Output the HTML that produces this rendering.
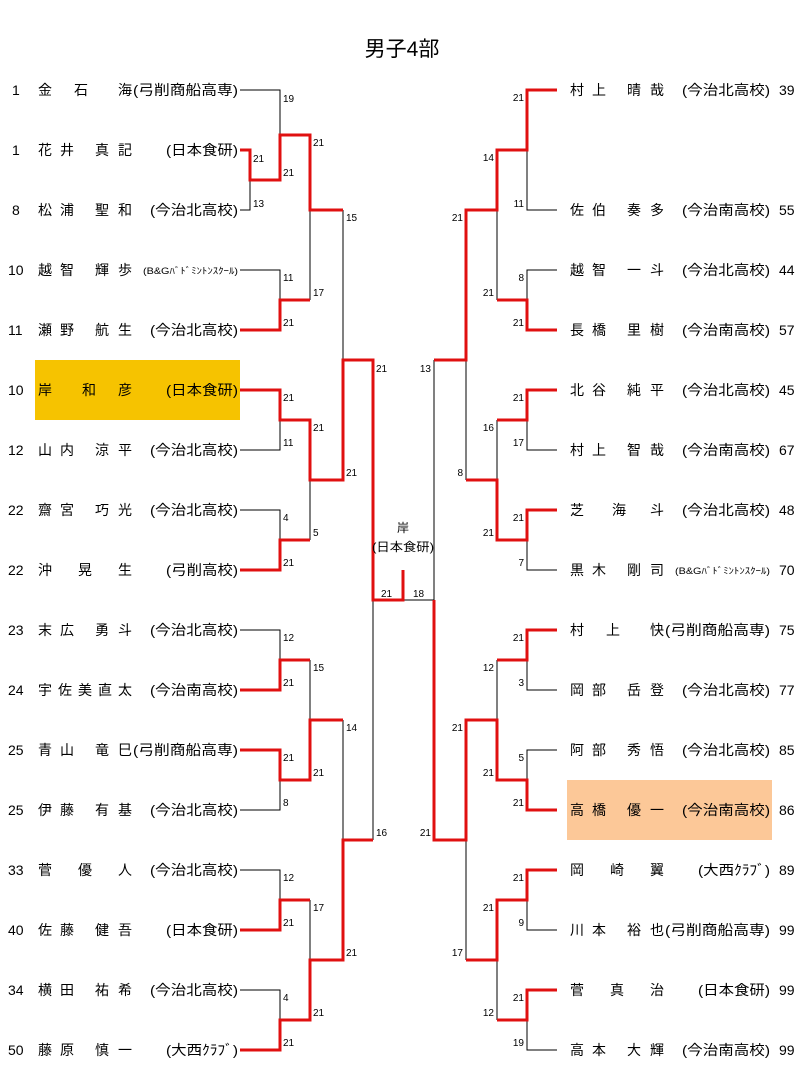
<!DOCTYPE html>
<html><head><meta charset="utf-8"><style>
html,body{margin:0;padding:0;background:#fff;}
svg{display:block;}
text{font-family:"Liberation Sans","Noto Sans CJK JP",sans-serif;fill:#000;}
.n{font-size:14px;}
.s{font-size:10px;}
.sm{font-size:9px;}
.k path{fill:none;stroke:#000;stroke-width:1;}
.r path{fill:none;stroke:#e01010;stroke-width:3;stroke-linejoin:miter;}
</style></head><body>
<svg width="804" height="1081" viewBox="0 0 804 1081" xmlns="http://www.w3.org/2000/svg">
<rect x="35" y="360" width="205" height="60" fill="#f6c300"/>
<rect x="567" y="780" width="205" height="60" fill="#fcc898"/>
<text x="402" y="56" font-size="21" text-anchor="middle">男子4部</text>

<g class="k">
<path d="M240 90H280V180M240 150H250V210H240M250 180H280M280 135H310"/>
<path d="M240 270H280V330H240M280 300H310M310 135V300M310 210H343"/>
<path d="M240 390H280V450H240M280 420H310M240 510H280V570H240M280 540H310M310 420V540M310 480H343M343 210V480M343 360H373"/>
<path d="M240 630H280V690H240M280 660H310M240 750H280V810H240M280 780H310M310 660V780M310 720H343"/>
<path d="M240 870H280V930H240M280 900H310M240 990H280V1050H240M280 1020H310M310 900V1020M310 960H343M343 720V960M343 840H373"/>
<path d="M373 360V840M373 600H434M434 360V840"/>
<path d="M557 90H527V210H557M527 150H497M557 270H527V330H557M527 300H497M497 150V300M497 210H466"/>
<path d="M557 390H527V450H557M527 420H497M557 510H527V570H557M527 540H497M497 420V540M497 480H466M466 210V480M466 360H434"/>
<path d="M557 630H527V690H557M527 660H497M557 750H527V810H557M527 780H497M497 660V780M497 720H466"/>
<path d="M557 870H527V930H557M527 900H497M557 990H527V1050H557M527 1020H497M497 900V1020M497 960H466M466 720V960M466 840H434"/>
</g>
<g class="r">
<path d="M240 150H250V180H280V135H310V210H343"/>
<path d="M240 330H280V300H310"/>
<path d="M240 390H280V420H310V480H343V360H373V600H403V570"/>
<path d="M240 570H280V540H310"/>
<path d="M240 690H280V660H310"/>
<path d="M240 750H280V780H310V720H343"/>
<path d="M240 930H280V900H310"/>
<path d="M240 1050H280V1020H310V960H343V840H373"/>
<path d="M557 90H527V150H497V210H466V360H434"/>
<path d="M557 330H527V300H497"/>
<path d="M557 390H527V420H497"/>
<path d="M557 510H527V540H497V480H466"/>
<path d="M557 630H527V660H497"/>
<path d="M557 810H527V780H497V720H466V840H434V600"/>
<path d="M557 870H527V900H497V960H466"/>
<path d="M557 990H527V1020H497"/>
</g>

<g class="s">
<text x="283" y="102">19</text><text x="253" y="162">21</text><text x="253" y="207">13</text><text x="283" y="176">21</text>
<text x="313" y="146">21</text><text x="346" y="221">15</text><text x="283" y="281">11</text><text x="283" y="326">21</text>
<text x="313" y="296">17</text><text x="283" y="401">21</text><text x="283" y="446">11</text><text x="313" y="431">21</text>
<text x="346" y="476">21</text><text x="283" y="521">4</text><text x="283" y="566">21</text><text x="313" y="536">5</text>
<text x="376" y="372">21</text><text x="283" y="641">12</text><text x="283" y="686">21</text><text x="313" y="671">15</text>
<text x="283" y="761">21</text><text x="283" y="806">8</text><text x="313" y="776">21</text><text x="346" y="731">14</text>
<text x="283" y="881">12</text><text x="283" y="926">21</text><text x="313" y="911">17</text><text x="283" y="1001">4</text>
<text x="283" y="1046">21</text><text x="313" y="1016">21</text><text x="346" y="956">21</text><text x="376" y="836">16</text>
<text x="381" y="597">21</text><text x="413" y="597">18</text>
</g>
<g class="s" text-anchor="end">
<text x="524" y="101">21</text><text x="524" y="207">11</text><text x="494" y="161">14</text><text x="524" y="281">8</text>
<text x="524" y="326">21</text><text x="494" y="296">21</text><text x="463" y="221">21</text><text x="431" y="372">13</text>
<text x="524" y="401">21</text><text x="524" y="446">17</text><text x="494" y="431">16</text><text x="524" y="521">21</text>
<text x="524" y="566">7</text><text x="463" y="476">8</text><text x="494" y="536">21</text>
<text x="524" y="641">21</text><text x="524" y="686">3</text><text x="494" y="671">12</text><text x="524" y="761">5</text>
<text x="524" y="806">21</text><text x="494" y="776">21</text><text x="463" y="731">21</text><text x="431" y="836">21</text>
<text x="524" y="881">21</text><text x="524" y="926">9</text><text x="494" y="911">21</text><text x="524" y="1001">21</text>
<text x="524" y="1046">19</text><text x="494" y="1016">12</text><text x="463" y="956">17</text>
</g>
<text x="403" y="532" font-size="12" text-anchor="middle">岸</text>
<text x="372" y="551" font-size="12" textLength="62" lengthAdjust="spacingAndGlyphs">(日本食研)</text>

<g class="n">
<text x="12" y="95">1</text><text x="38 74 118" y="95">金石海</text><text x="133" y="95" textLength="105" lengthAdjust="spacingAndGlyphs">(弓削商船高専)</text>
<text x="12" y="155">1</text><text x="38 60 95 118" y="155">花井真記</text><text x="166" y="155" textLength="72" lengthAdjust="spacingAndGlyphs">(日本食研)</text>
<text x="12" y="215">8</text><text x="38 60 95 118" y="215">松浦聖和</text><text x="150" y="215" textLength="88" lengthAdjust="spacingAndGlyphs">(今治北高校)</text>
<text x="8" y="275">10</text><text x="38 60 95 118" y="275">越智輝歩</text><text x="143" y="274" class="sm" textLength="95" lengthAdjust="spacingAndGlyphs">(B&amp;Gﾊﾞﾄﾞﾐﾝﾄﾝｽｸｰﾙ)</text>
<text x="8" y="335">11</text><text x="38 60 95 118" y="335">瀬野航生</text><text x="150" y="335" textLength="88" lengthAdjust="spacingAndGlyphs">(今治北高校)</text>
<text x="8" y="395">10</text><text x="38 82 118" y="395">岸和彦</text><text x="166" y="395" textLength="72" lengthAdjust="spacingAndGlyphs">(日本食研)</text>
<text x="8" y="455">12</text><text x="38 60 95 118" y="455">山内涼平</text><text x="150" y="455" textLength="88" lengthAdjust="spacingAndGlyphs">(今治北高校)</text>
<text x="8" y="515">22</text><text x="38 60 95 118" y="515">齋宮巧光</text><text x="150" y="515" textLength="88" lengthAdjust="spacingAndGlyphs">(今治北高校)</text>
<text x="8" y="575">22</text><text x="38 78 118" y="575">沖晃生</text><text x="166" y="575" textLength="72" lengthAdjust="spacingAndGlyphs">(弓削高校)</text>
<text x="8" y="635">23</text><text x="38 60 95 118" y="635">末広勇斗</text><text x="150" y="635" textLength="88" lengthAdjust="spacingAndGlyphs">(今治北高校)</text>
<text x="8" y="695">24</text><text x="38 58 78 98 118" y="695">宇佐美直太</text><text x="150" y="695" textLength="88" lengthAdjust="spacingAndGlyphs">(今治南高校)</text>
<text x="8" y="755">25</text><text x="38 60 95 118" y="755">青山竜巳</text><text x="133" y="755" textLength="105" lengthAdjust="spacingAndGlyphs">(弓削商船高専)</text>
<text x="8" y="815">25</text><text x="38 60 95 118" y="815">伊藤有基</text><text x="150" y="815" textLength="88" lengthAdjust="spacingAndGlyphs">(今治北高校)</text>
<text x="8" y="875">33</text><text x="38 78 118" y="875">菅優人</text><text x="150" y="875" textLength="88" lengthAdjust="spacingAndGlyphs">(今治北高校)</text>
<text x="8" y="935">40</text><text x="38 60 95 118" y="935">佐藤健吾</text><text x="166" y="935" textLength="72" lengthAdjust="spacingAndGlyphs">(日本食研)</text>
<text x="8" y="995">34</text><text x="38 60 95 118" y="995">横田祐希</text><text x="150" y="995" textLength="88" lengthAdjust="spacingAndGlyphs">(今治北高校)</text>
<text x="8" y="1055">50</text><text x="38 60 95 118" y="1055">藤原慎一</text><text x="166" y="1055" textLength="72" lengthAdjust="spacingAndGlyphs">(大西ｸﾗﾌﾞ)</text>

<text x="570 592 627 650" y="95">村上晴哉</text><text x="682" y="95" textLength="88" lengthAdjust="spacingAndGlyphs">(今治北高校)</text><text x="779" y="95">39</text>
<text x="570 592 627 650" y="215">佐伯奏多</text><text x="682" y="215" textLength="88" lengthAdjust="spacingAndGlyphs">(今治南高校)</text><text x="779" y="215">55</text>
<text x="570 592 627 650" y="275">越智一斗</text><text x="682" y="275" textLength="88" lengthAdjust="spacingAndGlyphs">(今治北高校)</text><text x="779" y="275">44</text>
<text x="570 592 627 650" y="335">長橋里樹</text><text x="682" y="335" textLength="88" lengthAdjust="spacingAndGlyphs">(今治南高校)</text><text x="779" y="335">57</text>
<text x="570 592 627 650" y="395">北谷純平</text><text x="682" y="395" textLength="88" lengthAdjust="spacingAndGlyphs">(今治北高校)</text><text x="779" y="395">45</text>
<text x="570 592 627 650" y="455">村上智哉</text><text x="682" y="455" textLength="88" lengthAdjust="spacingAndGlyphs">(今治南高校)</text><text x="779" y="455">67</text>
<text x="570 612 650" y="515">芝海斗</text><text x="682" y="515" textLength="88" lengthAdjust="spacingAndGlyphs">(今治北高校)</text><text x="779" y="515">48</text>
<text x="570 592 627 650" y="575">黒木剛司</text><text x="675" y="574" class="sm" textLength="95" lengthAdjust="spacingAndGlyphs">(B&amp;Gﾊﾞﾄﾞﾐﾝﾄﾝｽｸｰﾙ)</text><text x="779" y="575">70</text>
<text x="570 606 650" y="635">村上快</text><text x="665" y="635" textLength="105" lengthAdjust="spacingAndGlyphs">(弓削商船高専)</text><text x="779" y="635">75</text>
<text x="570 592 627 650" y="695">岡部岳登</text><text x="682" y="695" textLength="88" lengthAdjust="spacingAndGlyphs">(今治北高校)</text><text x="779" y="695">77</text>
<text x="570 592 627 650" y="755">阿部秀悟</text><text x="682" y="755" textLength="88" lengthAdjust="spacingAndGlyphs">(今治北高校)</text><text x="779" y="755">85</text>
<text x="570 592 627 650" y="815">高橋優一</text><text x="682" y="815" textLength="88" lengthAdjust="spacingAndGlyphs">(今治南高校)</text><text x="779" y="815">86</text>
<text x="570 610 650" y="875">岡崎翼</text><text x="698" y="875" textLength="72" lengthAdjust="spacingAndGlyphs">(大西ｸﾗﾌﾞ)</text><text x="779" y="875">89</text>
<text x="570 592 627 650" y="935">川本裕也</text><text x="665" y="935" textLength="105" lengthAdjust="spacingAndGlyphs">(弓削商船高専)</text><text x="779" y="935">99</text>
<text x="570 610 650" y="995">菅真治</text><text x="698" y="995" textLength="72" lengthAdjust="spacingAndGlyphs">(日本食研)</text><text x="779" y="995">99</text>
<text x="570 592 627 650" y="1055">高本大輝</text><text x="682" y="1055" textLength="88" lengthAdjust="spacingAndGlyphs">(今治南高校)</text><text x="779" y="1055">99</text>
</g>
</svg>
</body></html>
